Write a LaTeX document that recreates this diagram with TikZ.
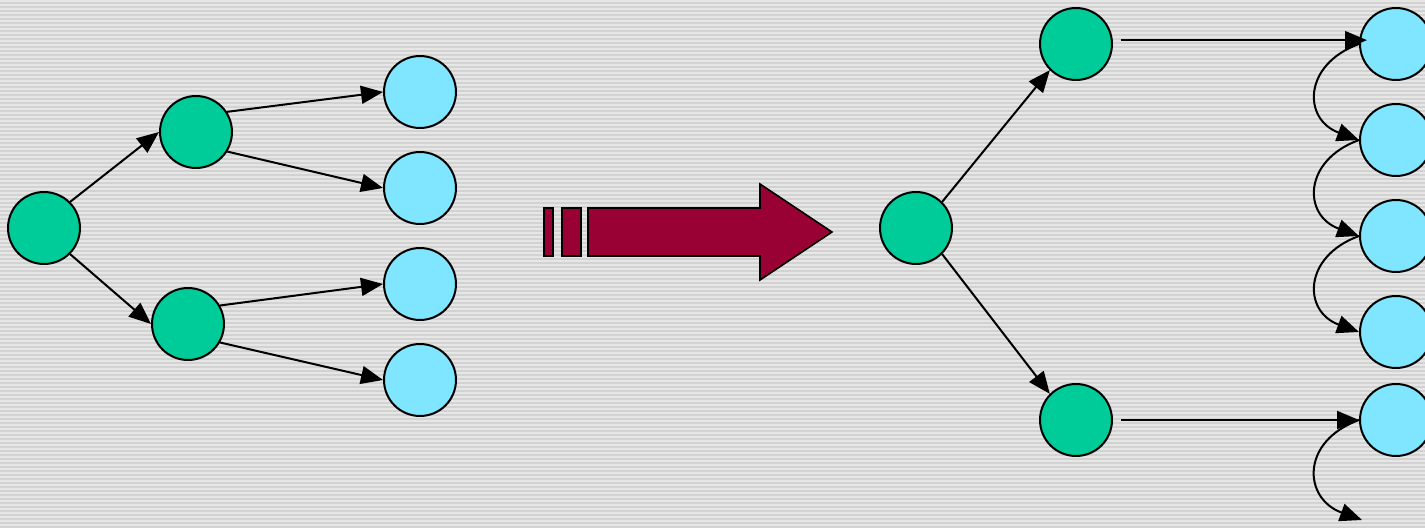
\documentclass[tikz,border=0pt]{standalone}
\usetikzlibrary{arrows.meta}
\definecolor{Inner}{HTML}{00CC99}
\definecolor{Leaf}{HTML}{80E5FF}
\definecolor{Bolt}{HTML}{990033}
\definecolor{Paper}{HTML}{E6E6E6}
\definecolor{Stripe}{HTML}{D2D2D2}
\tikzset{x=1pt,y=1pt,
  dot/.style={circle,draw=black,line width=2pt,minimum size=72pt,inner sep=0pt},
  innerdot/.style={dot,fill=Inner},
  leafdot/.style={dot,fill=Leaf},
  edge/.style={-{Triangle[length=22pt,width=18pt]},line width=2pt},
  hop/.style={edge,out=200,in=160,looseness=1.6},
  bolt/.style={draw=black,fill=Bolt,line width=1.6pt,line join=miter}}
\begin{document}
\begin{tikzpicture}
  \clip (0,0) rectangle (1425,528);
  \fill[Paper] (0,0) rectangle (1425,528);
  \foreach \y in {0,4,...,524} \fill[Stripe] (0,\y) rectangle (1425,\y+1.6);
  % before
  \node[innerdot] (l0) at (44,300) {};
  \node[innerdot] (la) at (196,396) {};
  \node[innerdot] (lb) at (188,204) {};
  \foreach \i/\y in {1/436,2/340,3/244,4/148} \node[leafdot] (l\i) at (420,\y) {};
  \draw[edge] (l0.north east)--(la.west); \draw[edge] (l0.south east)--(lb.west);
  \draw[edge] (la.33)--(l1.west); \draw[edge] (la.-32)--(l2.west);
  \draw[edge] (lb.30)--(l3.west); \draw[edge] (lb.-30)--(l4.west);
  % big arrow
  \draw[bolt] (544,272) rectangle (553,320);
  \draw[bolt] (562,272) rectangle (581,320);
  \draw[bolt] (588,272)--(760,272)--(760,248)--(832,296)--(760,344)--(760,320)--(588,320)--cycle;
  % after
  \node[innerdot] (r0) at (916,300) {};
  \node[innerdot] (ra) at (1076,484) {};
  \node[innerdot] (rb) at (1076,108) {};
  \foreach \i/\y in {1/484,2/388,3/292,4/196,5/108} \node[leafdot] (r\i) at (1396,\y) {};
  \coordinate (rend) at (1362,8);
  \draw[edge] (r0.north east)--(ra.south west); \draw[edge] (r0.south east)--(rb.north west);
  \draw[edge] ([xshift=8pt]ra.6) -- ([xshift=8pt]ra.6 -| r1.west);
  \draw[edge] ([xshift=8pt]rb.east) -- (r5.west);
  \foreach \i/\j in {1/2,2/3,3/4} \draw[hop] (r\i.west) to (r\j.west);
  \draw[hop] (r5.west) to (rend);
\end{tikzpicture}
\end{document}
